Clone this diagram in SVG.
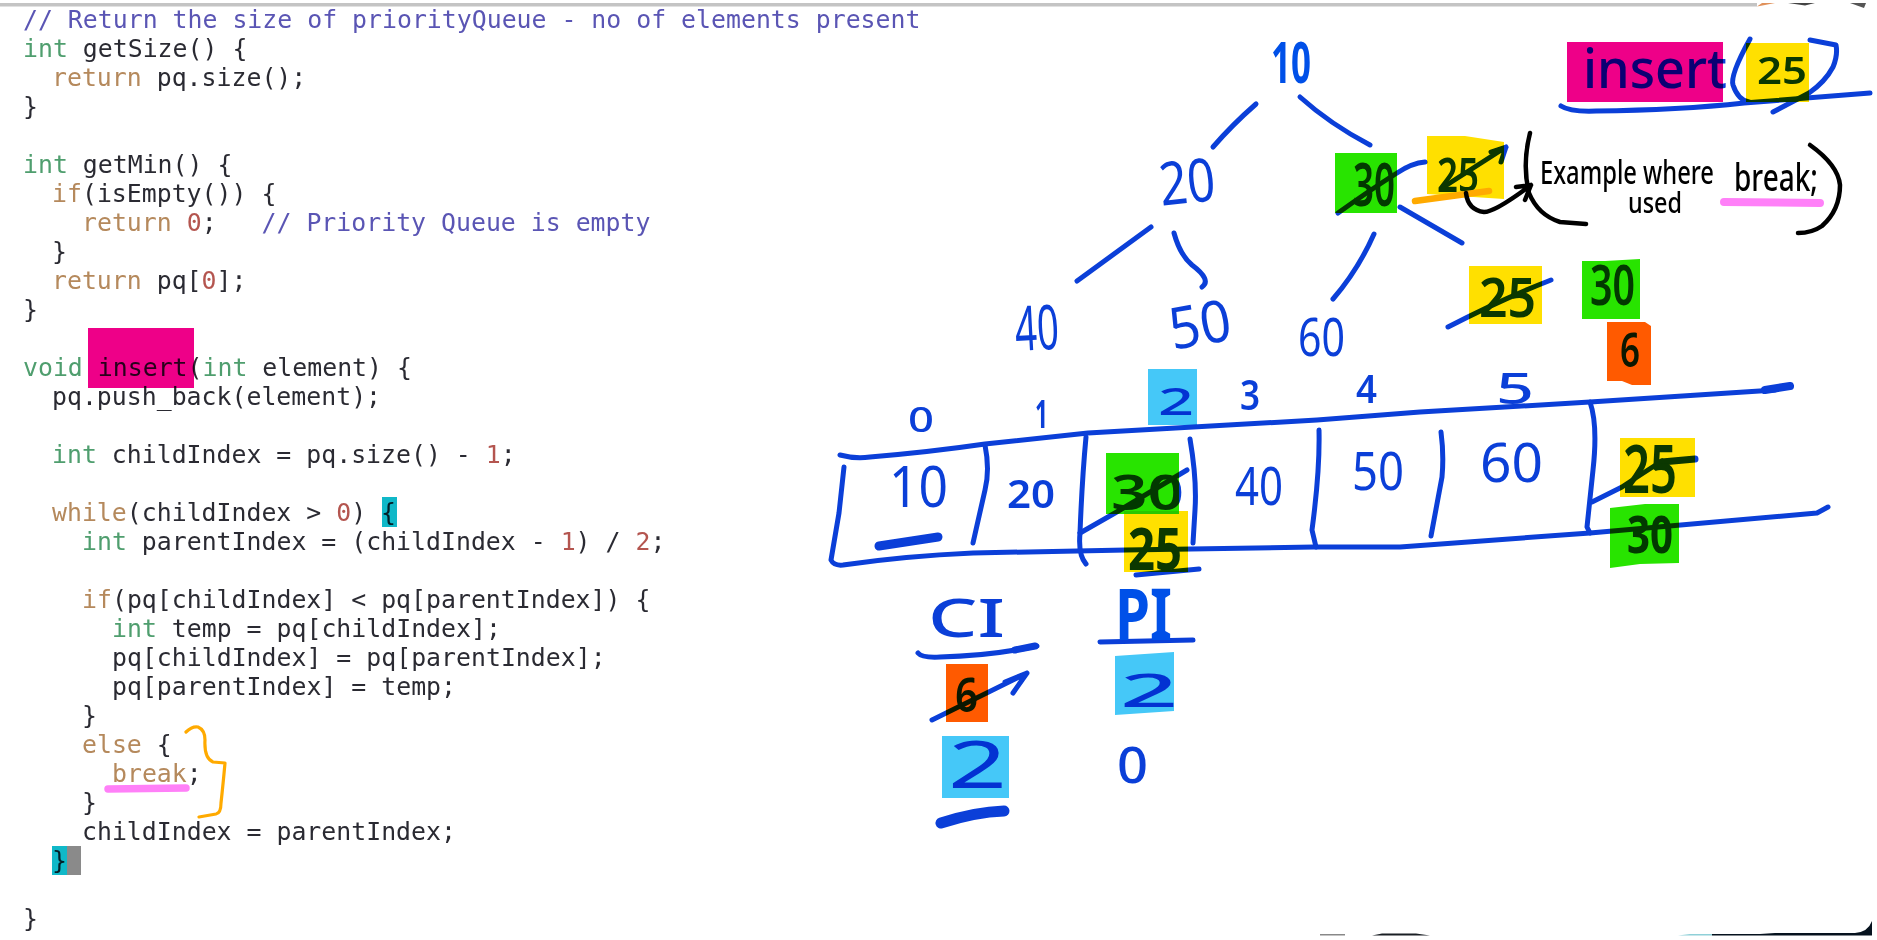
<svg xmlns="http://www.w3.org/2000/svg" width="1877" height="940" viewBox="0 0 1877 940">
<defs>
<filter id="soft" x="-2%" y="-2%" width="104%" height="104%"><feGaussianBlur stdDeviation="0.45"/></filter>
</defs>
<style>
.code text{font-family:"DejaVu Sans Mono","Liberation Mono",monospace;font-size:24.85px;fill:#2b2b33;white-space:pre}
.c{fill:#5a55b4}.k{fill:#b5895c}.t{fill:#4f9e6e}.n{fill:#b4554f}
.hl{mix-blend-mode:multiply}
.pink{fill:#ee0088}.yel{fill:#ffe000}.grn{fill:#28e400}.org{fill:#ff5a00}.sky{fill:#45c8f8}
.s{fill:none;stroke:#0b3fd8;stroke-width:5;stroke-linecap:round;stroke-linejoin:round}
.b{fill:none;stroke:#000;stroke-width:4.5;stroke-linecap:round;stroke-linejoin:round}
.hw{font-family:"Noto Sans","DejaVu Sans",sans-serif;fill:#0b3fd8}
.ink{font-family:"Noto Sans","DejaVu Sans",sans-serif;fill:#000;font-weight:500}
</style>
<rect width="1877" height="940" fill="#fff"/>
<rect x="0" y="3" width="1757" height="3.5" fill="#c4c4c4"/>
<path d="M1757,6.5 L1762,3 L1775,3 L1765,5Z" fill="#e0915a"/>
<path d="M1788,3 L1815,3 L1805,5.5Z" fill="#444"/>
<path d="M1850,3 L1866,3 L1864,8Z" fill="#555"/>
<path d="M1320,934 L1345,934 L1345,935.5 L1320,935.5Z" fill="#888"/>
<path d="M1372,935.5 L1382,933.5 L1416,933.5 L1430,935.5Z" fill="#1a1f24"/>
<path d="M1678,935.5 L1690,934 L1712,934 L1712,935.5Z" fill="#8fd0d8"/>
<path d="M1712,934 L1760,934 L1775,933 L1855,933 Q1868,932 1872,921 L1872,935.5 L1712,935.5Z" fill="#06121e"/>
<g id="code" class="code" filter="url(#soft)">
<text x="23" y="28"><tspan class="c">// Return the size of priorityQueue - no of elements present</tspan></text>
<text x="23" y="57"><tspan class="t">int</tspan> getSize() {</text>
<text x="52" y="86"><tspan class="k">return</tspan> pq.size();</text>
<text x="23" y="115">}</text>
<text x="23" y="173"><tspan class="t">int</tspan> getMin() {</text>
<text x="52" y="202"><tspan class="k">if</tspan>(isEmpty()) {</text>
<text x="82" y="231"><tspan class="k">return</tspan> <tspan class="n">0</tspan>;   <tspan class="c">// Priority Queue is empty</tspan></text>
<text x="52" y="260">}</text>
<text x="52" y="289"><tspan class="k">return</tspan> pq[<tspan class="n">0</tspan>];</text>
<text x="23" y="318">}</text>
<text x="23" y="376"><tspan class="t">void</tspan> insert(<tspan class="t">int</tspan> element) {</text>
<text x="52" y="405">pq.push_back(element);</text>
<text x="52" y="463"><tspan class="t">int</tspan> childIndex = pq.size() - <tspan class="n">1</tspan>;</text>
<text x="52" y="521"><tspan class="k">while</tspan>(childIndex &gt; <tspan class="n">0</tspan>) {</text>
<text x="82" y="550"><tspan class="t">int</tspan> parentIndex = (childIndex - <tspan class="n">1</tspan>) / <tspan class="n">2</tspan>;</text>
<text x="82" y="608"><tspan class="k">if</tspan>(pq[childIndex] &lt; pq[parentIndex]) {</text>
<text x="112" y="637"><tspan class="t">int</tspan> temp = pq[childIndex];</text>
<text x="112" y="666">pq[childIndex] = pq[parentIndex];</text>
<text x="112" y="695">pq[parentIndex] = temp;</text>
<text x="82" y="724">}</text>
<text x="82" y="753"><tspan class="k">else</tspan> {</text>
<text x="112" y="782"><tspan class="k">break</tspan>;</text>
<text x="82" y="811">}</text>
<text x="82" y="840">childIndex = parentIndex;</text>
<text x="52" y="869">}</text>
<text x="23" y="927">}</text>
</g>
<g id="code-marks">
<rect class="hl pink" x="88" y="328" width="106" height="60"/>
<rect class="hl" x="382" y="497" width="15" height="30" fill="#10b8c8"/>
<rect class="hl" x="52" y="846" width="15" height="29" fill="#10b8c8"/>
<rect x="67" y="846" width="14" height="29" fill="#8a8a8a"/>
<path d="M186,732 Q192,726 198,727 Q205,730 205,740 Q204,758 213,762 L225,763 Q223,785 221,803 Q221,813 216,814 L199,817" fill="none" stroke="#ffaa00" stroke-width="3.2" stroke-linecap="round" stroke-linejoin="round"/>
<path d="M108,789 L186,788" fill="none" stroke="#ff80f8" stroke-width="7.5" stroke-linecap="round"/>
</g>
<g id="connectors">
<path class="s" d="M1256,104 Q1232,125 1213,147"/>
<path class="s" d="M1300,97 Q1330,124 1370,145"/>
<path class="s" d="M1151,227 L1077,281"/>
<path class="s" d="M1174,233 Q1180,255 1192,265 Q1212,280 1202,287"/>
<path class="s" d="M1374,234 Q1358,270 1333,299"/>
<path class="s" d="M1400,207 L1462,243"/>
<path class="s" d="M1338,213 Q1370,190 1397,173 Q1412,163 1425,162"/>
<path class="s" d="M1442,188 L1506,147 M1491,152 L1506,147 L1501,162"/>
<path class="s" d="M1448,327 Q1500,300 1551,280"/>
<path class="s" d="M1561,106 Q1570,112 1596,111 Q1680,110 1744,103 L1870,93"/>
<path class="s" d="M1750,39 Q1730,75 1733,85 Q1738,100 1749,102"/>
<path class="s" d="M1810,40 L1836,45 Q1838,55 1833,67 Q1825,82 1809,93 L1773,112"/>
<path class="s" d="M840,455 Q855,459 870,457 Q930,452 985,444 L1088,433 L1317,420 L1420,412 L1590,402 L1775,390"/>
<path class="s" style="stroke-width:8" d="M1765,390 L1790,386"/>
<path class="s" d="M844,467 L839,513 L831,560 Q834,566 843,565 Q905,556 973,553 L1126,550 L1314,547 L1400,547 L1590,533 L1817,513 L1828,507"/>
<path class="s" d="M985,445 Q990,470 985,490 L973,543"/>
<path class="s" d="M1086,437 Q1082,480 1080,533 Q1078,555 1086,564"/>
<path class="s" d="M1190,439 Q1197,480 1195,510 L1193,543"/>
<path class="s" d="M1319,430 Q1320,470 1312,530 L1316,547"/>
<path class="s" d="M1441,432 Q1444,455 1442,477 L1431,536"/>
<path class="s" d="M1590,402 Q1598,425 1593,470 L1587,527 L1590,533"/>
<path class="s" d="M1592,502 L1622,487 Q1640,475 1662,461"/>
<path class="s" style="stroke-width:7" d="M1662,462 L1695,459"/>
<path class="s" d="M1080,533 L1115,513 L1187,470"/>
<path class="s" d="M1136,575 L1199,569"/>
<path class="s" style="stroke-width:9" d="M879,546 L938,537"/>
<path class="s" d="M918,653 Q922,658 940,657 Q990,656 1037,646"/>
<path class="s" style="stroke-width:7" d="M1015,650 L1035,646"/>
<path class="s" d="M932,720 L1027,673 L1013,693 M1027,673 L1005,682"/>
<path class="s" d="M1100,642 L1193,640"/>
<path class="s" style="stroke-width:11" d="M941,823 Q975,812 1004,811"/>
</g>
<g id="node-10"><text class="hw" x="1271" y="83" font-size="57" font-weight="700" textLength="40" lengthAdjust="spacingAndGlyphs" style="fill:#0050e8">10</text></g>
<g id="node-20"><text class="hw" x="1160" y="203" font-size="60" textLength="56" lengthAdjust="spacingAndGlyphs" transform="rotate(-6 1188 190)">20</text></g>
<g id="node-30"><text class="hw" x="1353" y="206" font-size="60" font-weight="600" textLength="42" lengthAdjust="spacingAndGlyphs">30</text><rect class="hl grn" x="1335" y="153" width="62" height="60"/></g>
<g id="node-25a"><text class="hw" x="1437" y="192" font-size="46" font-weight="600" textLength="42" lengthAdjust="spacingAndGlyphs">25</text>
<path class="hl yel" d="M1427,136 L1465,136 L1504,142 L1504,199 L1427,194Z"/>
<path d="M1415,201 L1489,191" fill="none" stroke="#ffaa00" stroke-width="6.5" stroke-linecap="round"/></g>
<g id="node-40"><text class="hw" x="1015" y="350" font-size="62" textLength="44" lengthAdjust="spacingAndGlyphs" transform="rotate(-3 1037 330)">40</text></g>
<g id="node-50"><text class="hw" x="1169" y="345" font-size="58" textLength="62" lengthAdjust="spacingAndGlyphs" transform="rotate(-10 1200 325)">50</text></g>
<g id="node-60"><text class="hw" x="1298" y="356" font-size="52" textLength="47" lengthAdjust="spacingAndGlyphs">60</text></g>
<g id="node-25b"><text class="hw" x="1479" y="317" font-size="54" font-weight="600" textLength="57" lengthAdjust="spacingAndGlyphs">25</text><rect class="hl yel" x="1469" y="266" width="73" height="58"/></g>
<g id="node-30b"><text class="hw" x="1590" y="305" font-size="56" font-weight="600" textLength="45" lengthAdjust="spacingAndGlyphs">30</text><path class="hl grn" d="M1582,261 L1605,261 L1640,259 L1640,319 L1582,319Z"/></g>
<g id="node-6"><text class="hw" x="1620" y="367" font-size="47" font-weight="600" textLength="20" lengthAdjust="spacingAndGlyphs">6</text><path class="hl org" d="M1607,322 L1645,322 L1651,326 L1651,385 L1632,385 L1622,381 L1607,381Z"/></g>
<g id="insert-call"><text class="hw" x="1583" y="88" font-size="54" font-weight="500" textLength="144" lengthAdjust="spacingAndGlyphs">insert</text><rect class="hl pink" x="1567" y="42" width="156" height="60"/>
<text class="hw" x="1757" y="84" font-size="38" font-weight="600" textLength="50" lengthAdjust="spacingAndGlyphs">25</text><rect class="hl yel" x="1746" y="43" width="63" height="59"/></g>
<g id="array-index">
<text class="hw" x="908" y="432" font-size="35" font-weight="500" textLength="26" lengthAdjust="spacingAndGlyphs">0</text>
<text class="hw" x="1035" y="428" font-size="40" font-weight="700" textLength="13" lengthAdjust="spacingAndGlyphs">1</text>
<text class="hw" x="1158" y="415" font-size="38" font-weight="500" textLength="36" lengthAdjust="spacingAndGlyphs">2</text><rect class="hl sky" x="1148" y="369" width="49" height="56"/>
<text class="hw" x="1240" y="410" font-size="42" font-weight="600" textLength="20" lengthAdjust="spacingAndGlyphs">3</text>
<text class="hw" x="1356" y="403" font-size="40" font-weight="600" textLength="21" lengthAdjust="spacingAndGlyphs">4</text>
<text class="hw" x="1496" y="404" font-size="44" font-weight="500" textLength="38" lengthAdjust="spacingAndGlyphs">5</text>
</g>
<g id="array-cells">
<text class="hw" x="889" y="507" font-size="56" textLength="59" lengthAdjust="spacingAndGlyphs">10</text>
<text class="hw" x="1007" y="508" font-size="40" font-weight="600" textLength="48" lengthAdjust="spacingAndGlyphs">20</text>
<text class="hw" x="1111" y="510" font-size="49" font-weight="600" textLength="73" lengthAdjust="spacingAndGlyphs">30</text><rect class="hl grn" x="1106" y="453" width="73" height="61"/>
<text class="hw" x="1128" y="570" font-size="60" font-weight="700" textLength="54" lengthAdjust="spacingAndGlyphs">25</text><rect class="hl yel" x="1124" y="511" width="64" height="61"/>
<text class="hw" x="1235" y="505" font-size="52" textLength="48" lengthAdjust="spacingAndGlyphs">40</text>
<text class="hw" x="1352" y="490" font-size="52" textLength="52" lengthAdjust="spacingAndGlyphs">50</text>
<text class="hw" x="1480" y="482" font-size="54" textLength="63" lengthAdjust="spacingAndGlyphs">60</text>
<text class="hw" x="1623" y="493" font-size="66" font-weight="600" textLength="54" lengthAdjust="spacingAndGlyphs">25</text><rect class="hl yel" x="1620" y="438" width="75" height="59"/>
<text class="hw" x="1627" y="553" font-size="52" font-weight="700" textLength="46" lengthAdjust="spacingAndGlyphs">30</text><path class="hl grn" d="M1610,508 L1645,504 L1679,504 L1679,563 L1640,564 L1610,568Z"/>
</g>
<g id="child-index">
<text class="hw" x="928" y="637" font-size="52" font-weight="500" textLength="77" lengthAdjust="spacingAndGlyphs">CI</text>
<text class="hw" x="955" y="712" font-size="46" font-weight="600" textLength="23" lengthAdjust="spacingAndGlyphs">6</text><rect class="hl org" x="946" y="664" width="42" height="58"/>
<text class="hw" x="948" y="788" font-size="66" textLength="59" lengthAdjust="spacingAndGlyphs">2</text><rect class="hl sky" x="942" y="736" width="67" height="62"/>
</g>
<g id="parent-index">
<text class="hw" x="1115" y="640" font-size="72" font-weight="700" textLength="57" lengthAdjust="spacingAndGlyphs" style="fill:#0050e8">PI</text>
<text class="hw" x="1120" y="707" font-size="46" font-weight="500" textLength="58" lengthAdjust="spacingAndGlyphs">2</text><path class="hl sky" d="M1115,656 L1174,652 L1174,711 L1115,715Z"/>
<text class="hw" x="1117" y="783" font-size="50" font-weight="500" textLength="31" lengthAdjust="spacingAndGlyphs">0</text>
</g>
<g id="note">
<path class="b" d="M1530,133 Q1522,165 1529,193 Q1538,215 1560,222 L1586,224"/>
<path class="b" d="M1466,193 Q1468,210 1484,212 Q1495,212 1531,185 M1516,187 L1531,185 L1525,200"/>
<text class="ink" x="1540" y="184" font-size="33" textLength="174" lengthAdjust="spacingAndGlyphs">Example where</text>
<text class="ink" x="1628" y="213" font-size="28" textLength="54" lengthAdjust="spacingAndGlyphs">used</text>
<text class="ink" x="1734" y="191" font-size="38" textLength="84" lengthAdjust="spacingAndGlyphs">break;</text>
<path d="M1724,202 L1820,203" fill="none" stroke="#ff80f8" stroke-width="8" stroke-linecap="round"/>
<path class="b" d="M1810,145 Q1838,165 1840,185 Q1840,210 1822,226 Q1812,233 1798,233"/>
</g>
</svg>
